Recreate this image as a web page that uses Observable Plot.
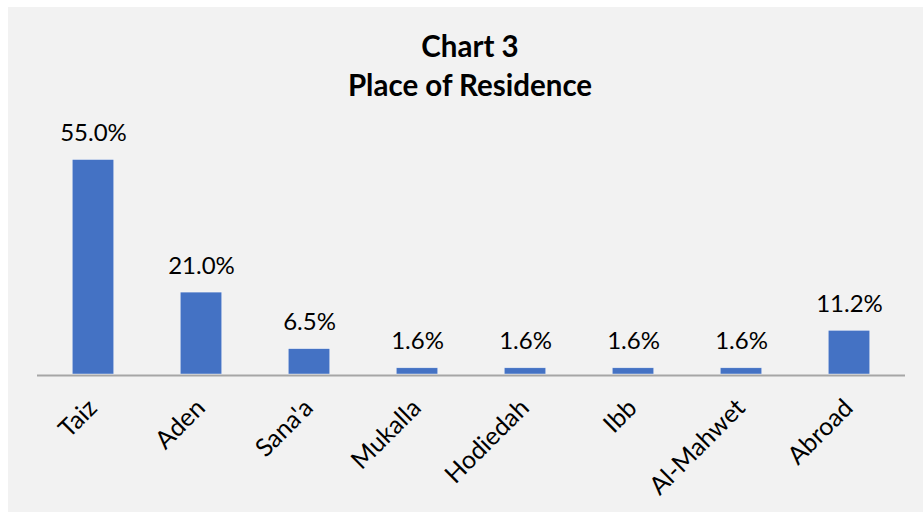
<!DOCTYPE html>
<html>
<head>
<meta charset="utf-8">
<script src="https://cdn.jsdelivr.net/npm/d3@7"></script>
<script src="https://cdn.jsdelivr.net/npm/@observablehq/plot@0.6"></script>
<style>
  html, body { margin: 0; padding: 0; background: #ffffff; }
  #wrap { position: absolute; left: 8px; top: 7px; width: 915px; height: 505px; background: #F2F2F2; overflow: hidden; }
  #title { box-sizing: border-box; height: 103px; padding-top: 19px; padding-left: 9px; text-align: center;
           font-family: "Lato", sans-serif; font-weight: 700; font-size: 29.5px; line-height: 39px; color: #000; }
  svg { display: block; }
</style>
</head>
<body>
<div id="wrap">
  <div id="title">Chart 3<br>Place of Residence</div>
  <div id="chart"></div>
</div>
<script>
const categories = ["Taiz", "Aden", "Sana'a", "Mukalla", "Hodiedah", "Ibb", "Al-Mahwet", "Abroad"];
const values = [55.0, 21.0, 6.5, 1.6, 1.6, 1.6, 1.6, 11.2];

const data = categories.map((c, i) => ({category: c, value: values[i]}));

const W = 915, H = 402;
const plot = Plot.plot({
  width: W,
  height: H,
  marginLeft: 29,
  marginRight: 18,
  marginTop: 20,
  marginBottom: 138,
  style: {background: "transparent", fontFamily: "Lato, sans-serif", color: "#000"},
  x: {domain: categories, padding: 0, axis: null},
  y: {domain: [0, 60], range: [264, 30], axis: null},
  marks: [
    Plot.barY(data, {x: "category", y: "value", fill: "#4472C4", insetLeft: 33.25, insetRight: 33.25,
                     stroke: "#ffffff", strokeWidth: 0.6, strokeOpacity: 0.7}),
    Plot.ruleY([0], {stroke: "#A6A6A6", strokeWidth: 2, dy: 1}),
    Plot.text(data, {x: "category", y: "value", text: d => d.value.toFixed(1) + "%",
                     dy: -19, lineAnchor: "bottom", fontSize: 24, fill: "#000"}),
    Plot.text(data, {x: "category", y: () => 0, text: "category", rotate: -45, textAnchor: "end",
                     lineAnchor: "bottom", dx: 5, dy: 35, fontSize: 25, fill: "#000"})
  ]
});
document.getElementById("chart").appendChild(plot);
</script>
</body>
</html>
